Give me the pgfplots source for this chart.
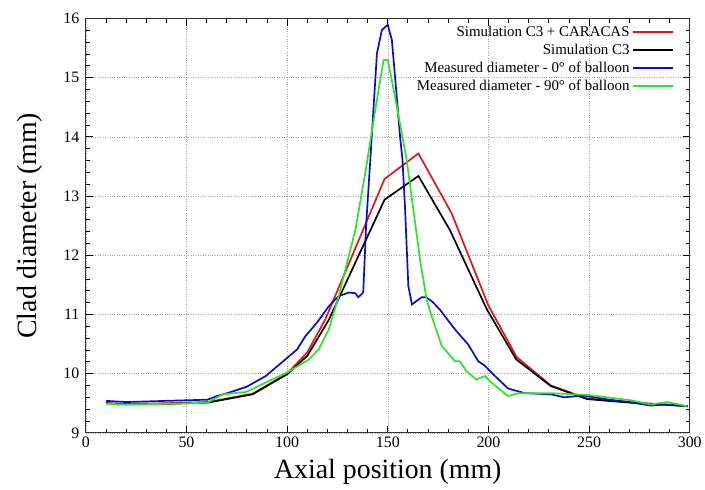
\documentclass[border=0pt]{standalone}
\usepackage{fontspec}
\setmainfont{Liberation Serif}
\usepackage{pgfplots}
\pgfplotsset{compat=1.18}
\pgfplotsset{layers/gridfirst/.define layer set={
    axis background,axis grid,pre main,axis ticks,axis lines,axis tick labels,
    main,axis descriptions,axis foreground}{}}

\definecolor{cred}{RGB}{230,20,20}
\definecolor{cblue}{RGB}{10,10,210}
\definecolor{cgreen}{RGB}{40,230,40}

\begin{document}
\begin{tikzpicture}
\begin{axis}[
    set layers=gridfirst,
    scale only axis,
    width=605bp, height=415bp,
    xmin=0, xmax=300, ymin=9, ymax=16,
    xtick={0,50,...,300}, ytick={9,10,...,16},
    minor x tick num=4, minor y tick num=4,
    tick align=inside, tick pos=both,
    major tick length=7bp, minor tick length=4bp,
    tick style={black, line width=0.9pt},
    axis line style={line width=1.2pt, black!80},
    grid=major,
    major grid style={gray!70, dotted, line width=0.6pt},
    /pgf/number format/assume math mode=true,
    ticklabel style={font=\fontsize{16}{16}\selectfont},
    xticklabel style={yshift=-1bp},
    yticklabel style={xshift=-3bp},
    xlabel={Axial position (mm)},
    ylabel={Clad diameter (mm)},
    label style={font=\fontsize{28}{28}\selectfont},
    xlabel style={yshift=-4bp},
    ylabel style={yshift=14bp},
    legend style={at={(rel axis cs:0.975,0.987)}, anchor=north east, draw=none, fill=none,
        inner sep=0pt, font=\fontsize{15}{15}\selectfont, row sep=2pt},
    legend cell align=right,
    legend plot pos=right,
    legend image code/.code={\draw[#1, line width=2pt] (11bp,0bp) -- (52bp,0bp);},
    every axis plot/.append style={line width=1.7pt},
]
\begin{pgfonlayer}{pre main}
\fill[white] (axis cs:126.6,14.73) rectangle (axis cs:300,16);
\end{pgfonlayer}

\addplot[cred] coordinates {
(10,9.5) (20,9.49) (40,9.5) (60.5,9.52) (82.8,9.66) (100,10.0) (110,10.36)
(119,10.92) (148.4,13.29) (165.2,13.72) (181.7,12.71) (200,11.15)
(214,10.28) (231,9.8) (249,9.58) (270,9.52) (299,9.45)
};
\addlegendentry{Simulation C3 + CARACAS}

\addplot[black] coordinates {
(10,9.5) (20,9.48) (40,9.49) (60.5,9.51) (82.8,9.65) (100,9.99) (110,10.3)
(120.7,10.91) (148.4,12.94) (165.2,13.34) (180.8,12.43) (199,11.1)
(213.8,10.24) (231,9.79) (249,9.57) (270,9.51) (299,9.45)
};
\addlegendentry{Simulation C3}

\addplot[cblue] coordinates {
(10,9.54) (20,9.52) (30,9.53) (40,9.54) (50,9.55) (60.5,9.56) (65,9.62)
(71.2,9.68) (80,9.78) (89.4,9.96) (97,10.18) (105,10.41) (109,10.63)
(115,10.87) (120.7,11.14) (125.6,11.31) (130.6,11.37) (133.9,11.36)
(135.3,11.29) (137.8,11.37) (139.2,12.49) (141.3,13.61) (144.6,15.41)
(147,15.8) (148.7,15.86) (150,15.89) (152,15.64) (153.6,15.02) (156.1,14.0)
(157.3,13.61) (158.6,12.77) (160.2,11.48) (162,11.17) (166.8,11.29)
(169,11.29) (172,11.22) (175.9,11.08) (183.3,10.75) (190,10.49)
(194.9,10.21) (198,10.14) (201.4,10.02) (209.7,9.75) (218,9.67) (231,9.65)
(237.7,9.6) (247,9.63) (260,9.56) (270,9.52) (280.6,9.46) (288,9.48) (299,9.45)
};
\addlegendentry{Measured diameter - 0° of balloon}

\addplot[cgreen] coordinates {
(10,9.49) (20,9.48) (40,9.49) (60.5,9.51) (67.9,9.65) (79.5,9.69) (89.4,9.85)
(100,10.02) (110.8,10.24) (115.7,10.41) (120.7,10.75) (125.6,11.31)
(133.9,12.43) (139.1,13.45) (143.8,14.46) (147.9,15.3) (150,15.3)
(153.6,14.68) (157.8,13.9) (159.4,13.61) (166,11.93) (169.3,11.25)
(171.8,10.97) (176.8,10.47) (183.3,10.21) (185.7,10.21) (189.1,10.04)
(194,9.9) (198.2,9.96) (201.5,9.85) (209.7,9.62) (214.7,9.67) (231,9.67)
(249.3,9.64) (270.7,9.55) (280.6,9.48) (288.8,9.52) (298.7,9.45)
};
\addlegendentry{Measured diameter - 90° of balloon}
\end{axis}
\path (current axis.south west) ++(-86bp,-56.4bp) rectangle ++(705bp,490bp);
\end{tikzpicture}
\end{document}
